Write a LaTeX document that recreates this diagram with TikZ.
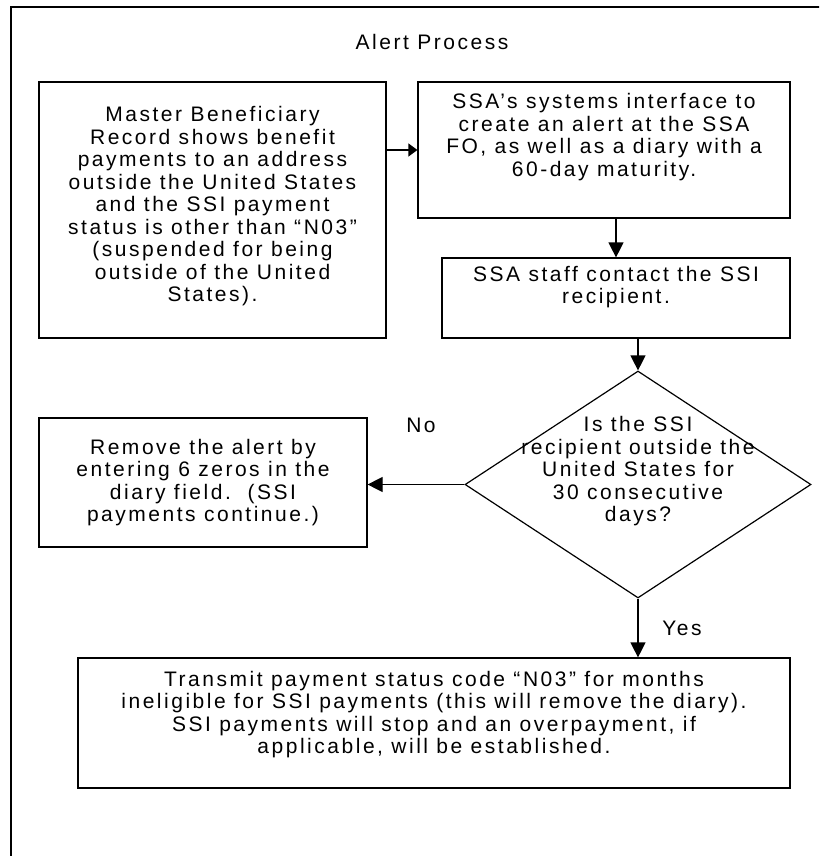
\documentclass[tikz,border=0pt]{standalone}
\usepackage{fontspec}
\setmainfont{Liberation Sans}[LetterSpace=12]
\usetikzlibrary{arrows.meta,shapes.geometric}
\tikzset{
    every node/.style={font=\fontsize{21}{22.5}\selectfont},
    box/.style={draw, line width=1.2pt, align=center, inner sep=0pt},
    arr/.style={line width=1.2pt, -{Triangle[length=15pt,width=15pt]}},
}
\begin{document}
\begin{tikzpicture}[x=1pt,y=-1pt]
    \useasboundingbox (0,0) rectangle (819,856);
    \clip (0,0) rectangle (819,856);
    %frame
    \draw[line width=2pt] (11,7) rectangle (840,880);
    \node (title) at (432,42) {Alert Process};
    %boxes
    \node[box, minimum width=347pt, minimum height=256pt, text depth=12pt] (mbr) at (212.5,210) {Master Beneficiary\\Record shows benefit\\payments to an address\\outside the United States\\and the SSI payment\\status is other than “N03”\\(suspended for being\\outside of the United\\States).};
    \node[box, minimum width=372pt, minimum height=136pt, text depth=30pt] (alert) at (604,150) {SSA’s systems interface to\\create an alert at the SSA\\FO, as well as a diary with a\\60-day maturity.};
    \node[box, minimum width=348pt, minimum height=80pt, text depth=26pt] (contact) at (616,298) {SSA staff contact the SSI\\recipient.};
    \node[draw, diamond, line width=1.2pt, inner sep=0pt, minimum width=346pt, minimum height=227pt,
        label={[align=center,yshift=13pt]center:Is the SSI\\recipient outside the\\United States for\\30 consecutive\\days?}] (check) at (638,484.5) {};
    \node[box, minimum width=328pt, minimum height=129pt] (remove) at (203,482.5) {Remove the alert by\\entering 6 zeros in the\\diary field.\ \ (SSI\\payments continue.)};
    \node[box, minimum width=712pt, minimum height=130pt, text depth=21pt] (transmit) at (434,723) {Transmit payment status code “N03” for months\\ineligible for SSI payments (this will remove the diary).\\SSI payments will stop and an overpayment, if\\applicable, will be established.};
    \node (no) at (421,425) {No};
    \node (yes) at (682,628) {Yes};
    %arrows
    \draw[arr, -{Triangle[length=9pt,width=13pt]}] (mbr.east |- alert.west) -- (alert.west);
    \draw[arr] (alert.south -| contact.north) -- (contact.north);
    \draw[arr] (check.north |- contact.south) -- (check.north);
    \draw[arr] (check.west) -- (check.west -| remove.east);
    \draw[arr] (check.south) -- (check.south |- transmit.north);
\end{tikzpicture}
\end{document}
